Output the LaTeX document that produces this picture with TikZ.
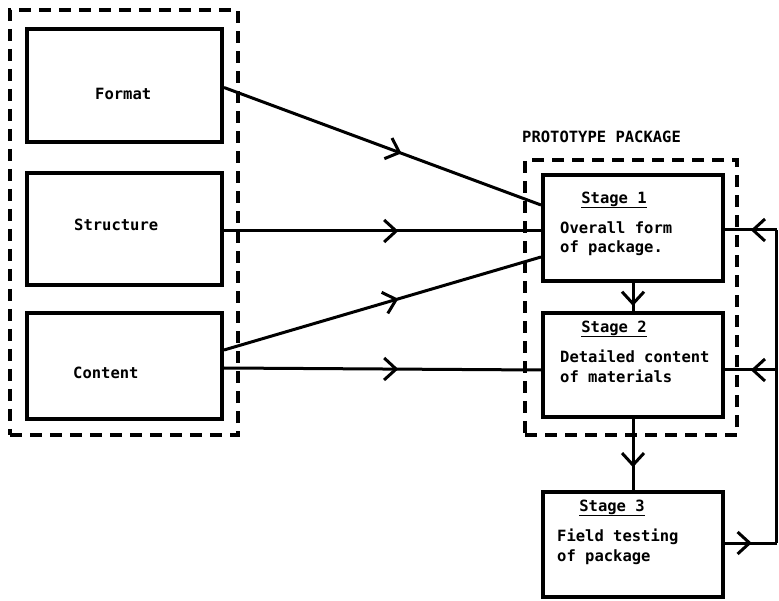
\documentclass[tikz,border=0pt]{standalone}
\usepackage{fontspec}
\setmonofont{DejaVu Sans Mono}
\usetikzlibrary{arrows.meta,decorations.markings,calc}
\tikzset{
  box/.style={draw, line width=4pt, minimum width=195pt, inner sep=0pt},
  stagebox/.style={draw, line width=4pt, minimum width=180pt, inner sep=0pt},
  grp/.style={draw, line width=3.2pt, dash pattern=on 12pt off 8pt},
  conn/.style={line width=3pt},
  txt/.style={font=\ttfamily\bfseries\fontsize{15.5}{18}\selectfont, inner sep=0pt, text height=11.5pt, text depth=3pt},
  uline/.style={line width=1.6pt},
  midarrow/.style={postaction={decorate}, decoration={markings,
    mark=at position #1 with {\arrow{Straight Barb[length=12pt,width=22pt,line width=3pt]}}}}
}
\begin{document}
\begin{tikzpicture}[x=1pt,y=-1pt]
\useasboundingbox (0,0) rectangle (779,601);
% group boxes
\node[grp, minimum width=228pt, minimum height=425pt, inner sep=0pt] (lgrp) at (124,222.5) {};
\node[grp, minimum width=212pt, minimum height=275pt, inner sep=0pt] (pgrp) at (631,297.5) {};
\node[txt, anchor=west] (plab) at (522,138) {PROTOTYPE PACKAGE};
% left boxes
\node[box, minimum height=113pt] (fmt) at (124.5,85.5) {};
\node[box, minimum height=112pt] (str) at (124.5,229) {};
\node[box, minimum height=106pt] (cnt) at (124.5,366) {};
\node[txt, anchor=west] (fmtt) at (95,95) {Format};
\node[txt, anchor=west] (strt) at (74,226) {Structure};
\node[txt, anchor=west] (cntt) at (73,374) {Content};
% stage boxes
\node[stagebox, minimum height=106pt] (s1) at (633,228) {};
\node[stagebox, minimum height=104pt] (s2) at (633,365) {};
\node[stagebox, minimum height=105pt] (s3) at (633,544.5) {};
\node[txt] (s1t) at (614,199) {Stage 1};
\node[txt, anchor=west] (s1a) at (560,229) {Overall form};
\node[txt, anchor=west] (s1b) at (560,248) {of package.};
\node[txt] (s2t) at (614,328) {Stage 2};
\node[txt, anchor=west] (s2a) at (560,358) {Detailed content};
\node[txt, anchor=west] (s2b) at (560,378) {of materials};
\node[txt] (s3t) at (612,507) {Stage 3};
\node[txt, anchor=west] (s3a) at (557,537) {Field testing};
\node[txt, anchor=west] (s3b) at (557,557) {of package};
\draw[uline] ([yshift=-1pt]s1t.south west) -- ([yshift=-1pt]s1t.south east);
\draw[uline] ([yshift=-1pt]s2t.south west) -- ([yshift=-1pt]s2t.south east);
\draw[uline] ([yshift=-1pt]s3t.south west) -- ([yshift=-1pt]s3t.south east);
% connectors from left group
\draw[conn, midarrow=0.56] ([yshift=-2pt]fmt.east) -- ([yshift=23pt]s1.west);
\draw[conn, midarrow=0.55] ([yshift=-2pt]str.east) -- ([yshift=-3pt]s1.west);
\draw[conn, midarrow=0.55] ([yshift=16pt]cnt.east) -- ([yshift=-29pt]s1.west);
\draw[conn, midarrow=0.55] ([yshift=-2pt]cnt.east) -- ([yshift=-5pt]s2.west);
% vertical connectors
\draw[conn, midarrow=0.82] (s1.south) -- (s2.north);
\draw[conn, midarrow=0.68] (s2.south) -- (s3.north);
% feedback loop
\coordinate (c1) at (776.5,230);
\coordinate (c2) at (776.5,370);
\coordinate (c3) at (776.5,543);
\draw[conn, midarrow=0.52] (c3 -| s3.east) -- (c3);
\draw[conn] (c3) -- (c1);
\draw[conn, midarrow=0.5] (c1) -- (c1 -| s1.east);
\draw[conn, midarrow=0.5] (c2) -- (c2 -| s2.east);
\end{tikzpicture}
\end{document}
